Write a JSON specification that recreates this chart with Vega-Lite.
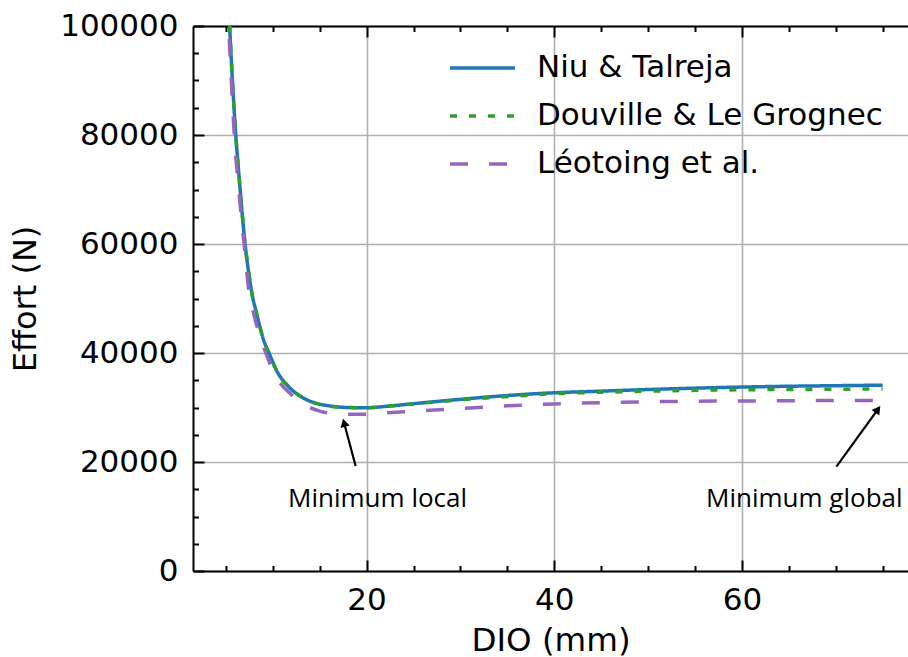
{
  "$schema": "https://vega.github.io/schema/vega-lite/v6.json",
  "width": 715,
  "height": 545,
  "autosize": {"type": "none"},
  "padding": {"left": 193, "top": 26, "right": 0, "bottom": 86},
  "background": "white",
  "config": {
    "view": {"stroke": null},
    "font": "DejaVu Sans",
    "axis": {
      "domainColor": "black", "domainWidth": 2, "tickColor": "black", "tickWidth": 2,
      "labelColor": "black", "titleColor": "black", "titleFontWeight": "normal",
      "gridColor": "#b0b0b0", "gridWidth": 1.6, "gridOpacity": 1,
      "labelFlush": false, "labelOverlap": false, "labelFont": "DejaVu Sans", "titleFont": "DejaVu Sans"
    }
  },
  "datasets": {
    "curves": [
      {"dio": 5.0, "effort": 114000, "series": "Niu & Talreja"},
      {"dio": 5.2, "effort": 106500, "series": "Niu & Talreja"},
      {"dio": 5.4, "effort": 100000, "series": "Niu & Talreja"},
      {"dio": 5.7, "effort": 90000, "series": "Niu & Talreja"},
      {"dio": 6.06, "effort": 80000, "series": "Niu & Talreja"},
      {"dio": 6.5, "effort": 70500, "series": "Niu & Talreja"},
      {"dio": 7.05, "effort": 60000, "series": "Niu & Talreja"},
      {"dio": 7.5, "effort": 54000, "series": "Niu & Talreja"},
      {"dio": 7.85, "effort": 50300, "series": "Niu & Talreja"},
      {"dio": 8.2, "effort": 47800, "series": "Niu & Talreja"},
      {"dio": 8.6, "effort": 45000, "series": "Niu & Talreja"},
      {"dio": 9.0, "effort": 42500, "series": "Niu & Talreja"},
      {"dio": 9.6, "effort": 40000, "series": "Niu & Talreja"},
      {"dio": 10.5, "effort": 36500, "series": "Niu & Talreja"},
      {"dio": 11.7, "effort": 33800, "series": "Niu & Talreja"},
      {"dio": 13.0, "effort": 32000, "series": "Niu & Talreja"},
      {"dio": 14.2, "effort": 31000, "series": "Niu & Talreja"},
      {"dio": 16, "effort": 30300, "series": "Niu & Talreja"},
      {"dio": 18, "effort": 30000, "series": "Niu & Talreja"},
      {"dio": 20, "effort": 29950, "series": "Niu & Talreja"},
      {"dio": 22, "effort": 30200, "series": "Niu & Talreja"},
      {"dio": 25, "effort": 30700, "series": "Niu & Talreja"},
      {"dio": 30, "effort": 31500, "series": "Niu & Talreja"},
      {"dio": 35, "effort": 32200, "series": "Niu & Talreja"},
      {"dio": 40, "effort": 32700, "series": "Niu & Talreja"},
      {"dio": 45, "effort": 33000, "series": "Niu & Talreja"},
      {"dio": 50, "effort": 33300, "series": "Niu & Talreja"},
      {"dio": 55, "effort": 33550, "series": "Niu & Talreja"},
      {"dio": 60, "effort": 33750, "series": "Niu & Talreja"},
      {"dio": 65, "effort": 33900, "series": "Niu & Talreja"},
      {"dio": 70, "effort": 34000, "series": "Niu & Talreja"},
      {"dio": 75, "effort": 34100, "series": "Niu & Talreja"},
      {"dio": 5.0, "effort": 114000, "series": "Douville & Le Grognec"},
      {"dio": 5.2, "effort": 106500, "series": "Douville & Le Grognec"},
      {"dio": 5.4, "effort": 100000, "series": "Douville & Le Grognec"},
      {"dio": 5.7, "effort": 90000, "series": "Douville & Le Grognec"},
      {"dio": 6.06, "effort": 80000, "series": "Douville & Le Grognec"},
      {"dio": 6.5, "effort": 70500, "series": "Douville & Le Grognec"},
      {"dio": 7.05, "effort": 60000, "series": "Douville & Le Grognec"},
      {"dio": 7.5, "effort": 54000, "series": "Douville & Le Grognec"},
      {"dio": 7.85, "effort": 50300, "series": "Douville & Le Grognec"},
      {"dio": 8.2, "effort": 47800, "series": "Douville & Le Grognec"},
      {"dio": 8.6, "effort": 45000, "series": "Douville & Le Grognec"},
      {"dio": 9.0, "effort": 42500, "series": "Douville & Le Grognec"},
      {"dio": 9.6, "effort": 40000, "series": "Douville & Le Grognec"},
      {"dio": 10.5, "effort": 36500, "series": "Douville & Le Grognec"},
      {"dio": 11.7, "effort": 33800, "series": "Douville & Le Grognec"},
      {"dio": 13.0, "effort": 32000, "series": "Douville & Le Grognec"},
      {"dio": 14.2, "effort": 31000, "series": "Douville & Le Grognec"},
      {"dio": 16, "effort": 30300, "series": "Douville & Le Grognec"},
      {"dio": 18, "effort": 30000, "series": "Douville & Le Grognec"},
      {"dio": 20, "effort": 29950, "series": "Douville & Le Grognec"},
      {"dio": 22, "effort": 30200, "series": "Douville & Le Grognec"},
      {"dio": 25, "effort": 30650, "series": "Douville & Le Grognec"},
      {"dio": 30, "effort": 31400, "series": "Douville & Le Grognec"},
      {"dio": 35, "effort": 32000, "series": "Douville & Le Grognec"},
      {"dio": 40, "effort": 32550, "series": "Douville & Le Grognec"},
      {"dio": 45, "effort": 32800, "series": "Douville & Le Grognec"},
      {"dio": 50, "effort": 33000, "series": "Douville & Le Grognec"},
      {"dio": 55, "effort": 33150, "series": "Douville & Le Grognec"},
      {"dio": 60, "effort": 33250, "series": "Douville & Le Grognec"},
      {"dio": 65, "effort": 33300, "series": "Douville & Le Grognec"},
      {"dio": 70, "effort": 33350, "series": "Douville & Le Grognec"},
      {"dio": 75, "effort": 33400, "series": "Douville & Le Grognec"},
      {"dio": 5.0, "effort": 112000, "series": "Léotoing et al."},
      {"dio": 5.3, "effort": 100000, "series": "Léotoing et al."},
      {"dio": 5.6, "effort": 89500, "series": "Léotoing et al."},
      {"dio": 5.9, "effort": 80000, "series": "Léotoing et al."},
      {"dio": 6.4, "effort": 69500, "series": "Léotoing et al."},
      {"dio": 6.95, "effort": 60000, "series": "Léotoing et al."},
      {"dio": 7.45, "effort": 51500, "series": "Léotoing et al."},
      {"dio": 8.0, "effort": 47000, "series": "Léotoing et al."},
      {"dio": 8.6, "effort": 43300, "series": "Léotoing et al."},
      {"dio": 9.26, "effort": 40000, "series": "Léotoing et al."},
      {"dio": 10.3, "effort": 35800, "series": "Léotoing et al."},
      {"dio": 11.9, "effort": 32500, "series": "Léotoing et al."},
      {"dio": 13.5, "effort": 30400, "series": "Léotoing et al."},
      {"dio": 15.1, "effort": 29300, "series": "Léotoing et al."},
      {"dio": 17, "effort": 28800, "series": "Léotoing et al."},
      {"dio": 19.4, "effort": 28750, "series": "Léotoing et al."},
      {"dio": 22, "effort": 29000, "series": "Léotoing et al."},
      {"dio": 24, "effort": 29200, "series": "Léotoing et al."},
      {"dio": 30, "effort": 29800, "series": "Léotoing et al."},
      {"dio": 35, "effort": 30300, "series": "Léotoing et al."},
      {"dio": 40, "effort": 30650, "series": "Léotoing et al."},
      {"dio": 45, "effort": 30900, "series": "Léotoing et al."},
      {"dio": 50, "effort": 31050, "series": "Léotoing et al."},
      {"dio": 55, "effort": 31150, "series": "Léotoing et al."},
      {"dio": 60, "effort": 31200, "series": "Léotoing et al."},
      {"dio": 65, "effort": 31250, "series": "Léotoing et al."},
      {"dio": 70, "effort": 31300, "series": "Léotoing et al."},
      {"dio": 75, "effort": 31300, "series": "Léotoing et al."}
    ],
    "notes": [
      {"x": 21.17, "y": 11750, "label": "Minimum local"},
      {"x": 66.65, "y": 11750, "label": "Minimum global"}
    ],
    "arrows": [
      {"x": 18.83, "y": 19270, "x2": 17.6, "y2": 27200, "arrow": "local"},
      {"x": 70.07, "y": 19140, "x2": 74.49, "y2": 29650, "arrow": "global"}
    ]
  },
  "resolve": {"axis": {"x": "independent", "y": "independent"}},
  "layer": [
    {
      "data": {"name": "curves"},
      "mark": {"type": "line", "strokeWidth": 3.5, "clip": true, "interpolate": "monotone"},
      "encoding": {
        "x": {"field": "dio", "type": "quantitative",
          "scale": {"domain": [1.5, 77.7], "nice": false, "zero": false},
          "axis": {"orient": "bottom", "values": [20, 40, 60], "grid": true, "tickSize": -11,
            "labelPadding": 25, "labelFontSize": 31, "title": "DIO (mm)", "titleFontSize": 32.5, "titlePadding": 9}},
        "y": {"field": "effort", "type": "quantitative",
          "scale": {"domain": [0, 100000], "nice": false, "zero": false},
          "axis": {"orient": "left", "values": [0, 20000, 40000, 60000, 80000, 100000], "format": "d", "grid": true,
            "tickSize": -11, "labelPadding": 26, "labelFontSize": 31, "title": "Effort (N)", "titleFontSize": 32, "titlePadding": 17}},
        "color": {"field": "series", "type": "nominal",
          "scale": {"domain": ["Niu & Talreja", "Douville & Le Grognec", "Léotoing et al."], "range": ["#1f77b4", "#2ca02c", "#9467bd"]},
          "legend": {"orient": "none", "legendX": 255, "legendY": 27, "title": null, "symbolType": "stroke", "symbolSize": 4225,
            "symbolStrokeWidth": 3.5, "clipHeight": 30, "rowPadding": 17, "labelFontSize": 31, "labelFont": "DejaVu Sans",
            "labelColor": "black", "labelOffset": 20, "labelLimit": 0, "padding": 0}},
        "strokeDash": {"field": "series", "type": "nominal",
          "scale": {"domain": ["Niu & Talreja", "Douville & Le Grognec", "Léotoing et al."], "range": [[1, 0], [7, 12], [18, 21]]},
          "legend": {"orient": "none", "legendX": 255, "legendY": 27, "title": null, "symbolType": "stroke", "symbolSize": 4225,
            "symbolStrokeWidth": 3.5, "clipHeight": 30, "rowPadding": 17, "labelFontSize": 31, "labelFont": "DejaVu Sans",
            "labelColor": "black", "labelOffset": 20, "labelLimit": 0, "padding": 0}}
      }
    },
    {
      "data": {"name": "notes"},
      "mark": {"type": "text", "font": "Open Sans", "fontSize": 26, "color": "black", "align": "center", "baseline": "alphabetic"},
      "encoding": {
        "x": {"field": "x", "type": "quantitative", "scale": {"domain": [1.5, 77.7], "nice": false, "zero": false},
          "axis": {"orient": "bottom", "values": [5, 10, 15, 25, 30, 35, 45, 50, 55, 65, 70, 75], "grid": false, "domain": false,
            "labels": false, "tickSize": -5.5, "title": null}},
        "y": {"field": "y", "type": "quantitative", "scale": {"domain": [0, 100000], "nice": false, "zero": false},
          "axis": {"orient": "left", "values": [5000, 10000, 15000, 25000, 30000, 35000, 45000, 50000, 55000, 65000, 70000, 75000, 85000, 90000, 95000],
            "grid": false, "domain": false, "labels": false, "tickSize": -5.5, "title": null}},
        "text": {"field": "label"}
      }
    },
    {
      "data": {"name": "arrows"},
      "mark": {"type": "rule", "color": "black", "strokeWidth": 2.2},
      "encoding": {
        "x": {"field": "x", "type": "quantitative", "scale": {"domain": [1.5, 77.7], "nice": false, "zero": false},
          "axis": {"orient": "top", "values": [20, 40, 60], "grid": false, "labels": false, "tickSize": -11, "title": null}},
        "y": {"field": "y", "type": "quantitative", "scale": {"domain": [0, 100000], "nice": false, "zero": false}, "axis": null},
        "x2": {"field": "x2"},
        "y2": {"field": "y2"}
      }
    },
    {
      "data": {"name": "arrows"},
      "transform": [{"filter": "datum.arrow == 'local'"}],
      "mark": {"type": "point", "shape": "triangle-up", "filled": true, "color": "black", "size": 90, "angle": -15, "opacity": 1},
      "encoding": {
        "x": {"field": "x2", "type": "quantitative", "scale": {"domain": [1.5, 77.7], "nice": false, "zero": false},
          "axis": {"orient": "top", "values": [5, 10, 15, 25, 30, 35, 45, 50, 55, 65, 70, 75], "grid": false, "domain": false,
            "labels": false, "tickSize": -5.5, "title": null}},
        "y": {"field": "y2", "type": "quantitative", "scale": {"domain": [0, 100000], "nice": false, "zero": false}, "axis": null}
      }
    },
    {
      "data": {"name": "arrows"},
      "transform": [{"filter": "datum.arrow == 'global'"}],
      "mark": {"type": "point", "shape": "triangle-up", "filled": true, "color": "black", "size": 90, "angle": 36, "opacity": 1},
      "encoding": {
        "x": {"field": "x2", "type": "quantitative", "scale": {"domain": [1.5, 77.7], "nice": false, "zero": false}, "axis": null},
        "y": {"field": "y2", "type": "quantitative", "scale": {"domain": [0, 100000], "nice": false, "zero": false}, "axis": null}
      }
    }
  ]
}
